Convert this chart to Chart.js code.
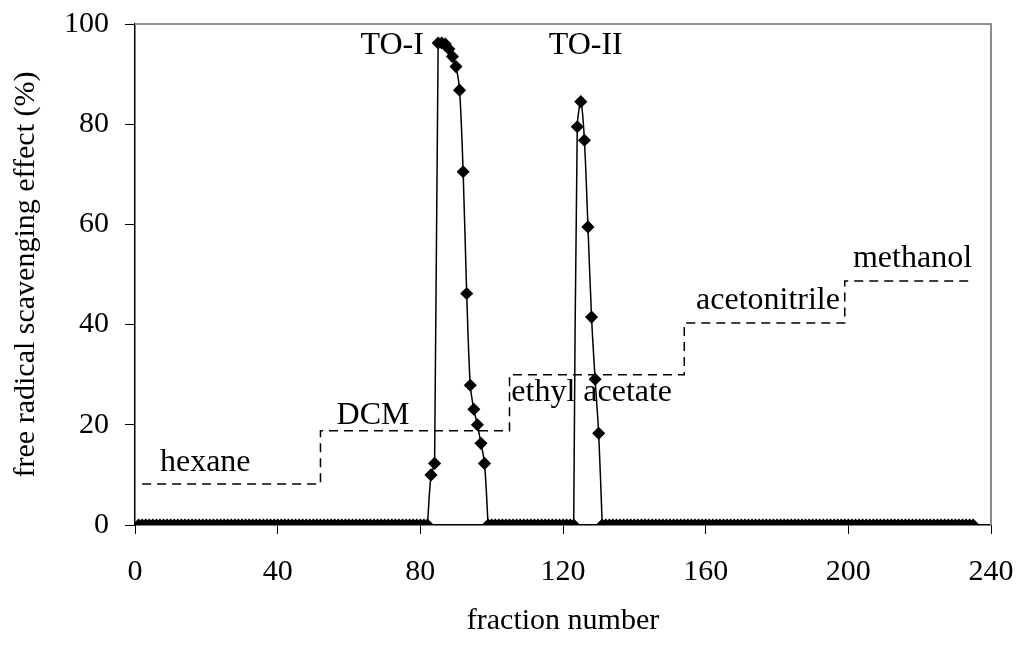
<!DOCTYPE html>
<html>
<head>
<meta charset="utf-8">
<script src="https://cdn.jsdelivr.net/npm/chart.js@4.4.0/dist/chart.umd.min.js"></script>
<style>
  html, body { margin: 0; padding: 0; background: #fff; }
  #wrap { width: 1020px; height: 647px; }
</style>
</head>
<body>
<div id="wrap"><canvas id="chart" width="1020" height="647"></canvas></div>
<script>
// fractions whose activity was zero (every fraction in each range)
const zeroRanges = [[1, 82], [99, 123], [131, 235]];

// active peak TO-I
const toIFractions = [82, 83, 84, 85, 86, 87, 88, 89, 90, 91, 92, 93, 94, 95, 96, 97, 98, 99];
const toIValues = [0, 10, 12.3, 96.2, 96.2, 96, 95, 93.5, 91.5, 86.8, 70.5, 46.2, 27.9, 23.1, 20, 16.3, 12.3, 0];

// active peak TO-II
const toIIFractions = [123, 124, 125, 126, 127, 128, 129, 130, 131];
const toIIValues = [0, 79.5, 84.5, 76.8, 59.5, 41.5, 29.1, 18.3, 0];

// solvent step profile (dashed)
const solventX = [2, 52, 52, 105, 105, 154, 154, 199, 199, 235];
const solventY = [8.2, 8.2, 18.8, 18.8, 30, 30, 40.3, 40.3, 48.7, 48.7];

// text labels placed in data units
const labelText = ['hexane', 'DCM', 'ethyl acetate', 'acetonitrile', 'methanol', 'TO-I', 'TO-II'];
const labelX = [7, 56.5, 105.5, 157.3, 201.3, 63.2, 116];
const labelY = [12.5, 21.9, 26.4, 44.7, 53.1, 95.6, 95.6];

const xTicks = [0, 40, 80, 120, 160, 200, 240];
const yTicks = [0, 20, 40, 60, 80, 100];

const FONT = "'Liberation Serif', 'Times New Roman', serif";

const zeroPoints = [];
zeroRanges.forEach(r => {
    for (let f = r[0]; f <= r[1]; f++) zeroPoints.push({ x: f, y: 0 });
});
const toIPoints = toIFractions.map((f, i) => ({ x: f, y: toIValues[i] }));
const toIIPoints = toIIFractions.map((f, i) => ({ x: f, y: toIIValues[i] }));
const solventPoints = solventX.map((f, i) => ({ x: f, y: solventY[i] }));

const peakRadius = ctx => (ctx.raw && ctx.raw.y === 0 ? 0 : 5.5);

const extras = {
    id: 'extras',
    afterDatasetsDraw(chart) {
        const ctx = chart.ctx;
        const a = chart.chartArea;
        const xs = chart.scales.x, ys = chart.scales.y;
        ctx.save();
        // grey frame on top and right
        ctx.strokeStyle = '#8c8c8c';
        ctx.lineWidth = 2;
        ctx.beginPath();
        ctx.moveTo(a.left, a.top);
        ctx.lineTo(a.right, a.top);
        ctx.lineTo(a.right, a.bottom);
        ctx.stroke();
        // labels
        ctx.fillStyle = '#000';
        ctx.font = '32px ' + FONT;
        ctx.textAlign = 'left';
        ctx.textBaseline = 'middle';
        labelText.forEach((t, i) => {
            ctx.fillText(t, xs.getPixelForValue(labelX[i]), ys.getPixelForValue(labelY[i]));
        });
        ctx.restore();
    }
};

new Chart(document.getElementById('chart').getContext('2d'), {
    type: 'scatter',
    data: {
        datasets: [
            {
                label: 'solvent',
                data: solventPoints,
                showLine: true,
                borderColor: '#000',
                borderWidth: 1.5,
                borderDash: [9, 6],
                pointRadius: 0,
                tension: 0
            },
            {
                label: 'zero',
                data: zeroPoints,
                showLine: true,
                borderColor: '#000',
                backgroundColor: '#000',
                borderWidth: 1.5,
                pointStyle: 'rectRot',
                pointRadius: 5.5,
                tension: 0
            },
            {
                label: 'TO-I',
                data: toIPoints,
                showLine: true,
                borderColor: '#000',
                backgroundColor: '#000',
                borderWidth: 1.5,
                pointStyle: 'rectRot',
                pointRadius: peakRadius,
                tension: 0.3
            },
            {
                label: 'TO-II',
                data: toIIPoints,
                showLine: true,
                borderColor: '#000',
                backgroundColor: '#000',
                borderWidth: 1.5,
                pointStyle: 'rectRot',
                pointRadius: peakRadius,
                tension: 0.3
            }
        ]
    },
    options: {
        responsive: false,
        animation: false,
        devicePixelRatio: 1,
        layout: { padding: { top: 24, right: 29, left: 0, bottom: 0 } },
        plugins: {
            legend: { display: false },
            tooltip: { enabled: false }
        },
        scales: {
            x: {
                type: 'linear',
                min: 0,
                max: 240,
                afterBuildTicks: s => { s.ticks = xTicks.map(v => ({ value: v })); },
                afterFit: s => { s.height = 122; s.paddingLeft = 0; s.paddingRight = 0; },
                ticks: { color: '#000', font: { family: FONT, size: 30 }, padding: 20, maxRotation: 0 },
                grid: { drawOnChartArea: false, drawTicks: true, tickLength: 9, color: '#000' },
                border: { color: '#000', width: 1.5 },
                title: {
                    display: true,
                    text: 'fraction number',
                    color: '#000',
                    font: { family: FONT, size: 30 },
                    padding: { top: 0, bottom: 8 }
                }
            },
            y: {
                min: 0,
                max: 100,
                afterBuildTicks: s => { s.ticks = yTicks.map(v => ({ value: v })); },
                afterFit: s => { s.width = 135; s.paddingTop = 0; s.paddingBottom = 0; },
                ticks: { color: '#000', font: { family: FONT, size: 30 }, padding: 16 },
                grid: { drawOnChartArea: false, drawTicks: true, tickLength: 10, color: '#000' },
                border: { color: '#000', width: 1.5 },
                title: {
                    display: true,
                    text: 'free radical scavenging effect (%)',
                    color: '#000',
                    font: { family: FONT, size: 30 },
                    padding: { top: 8, bottom: 0 }
                }
            }
        }
    },
    plugins: [extras]
});
</script>
</body>
</html>
